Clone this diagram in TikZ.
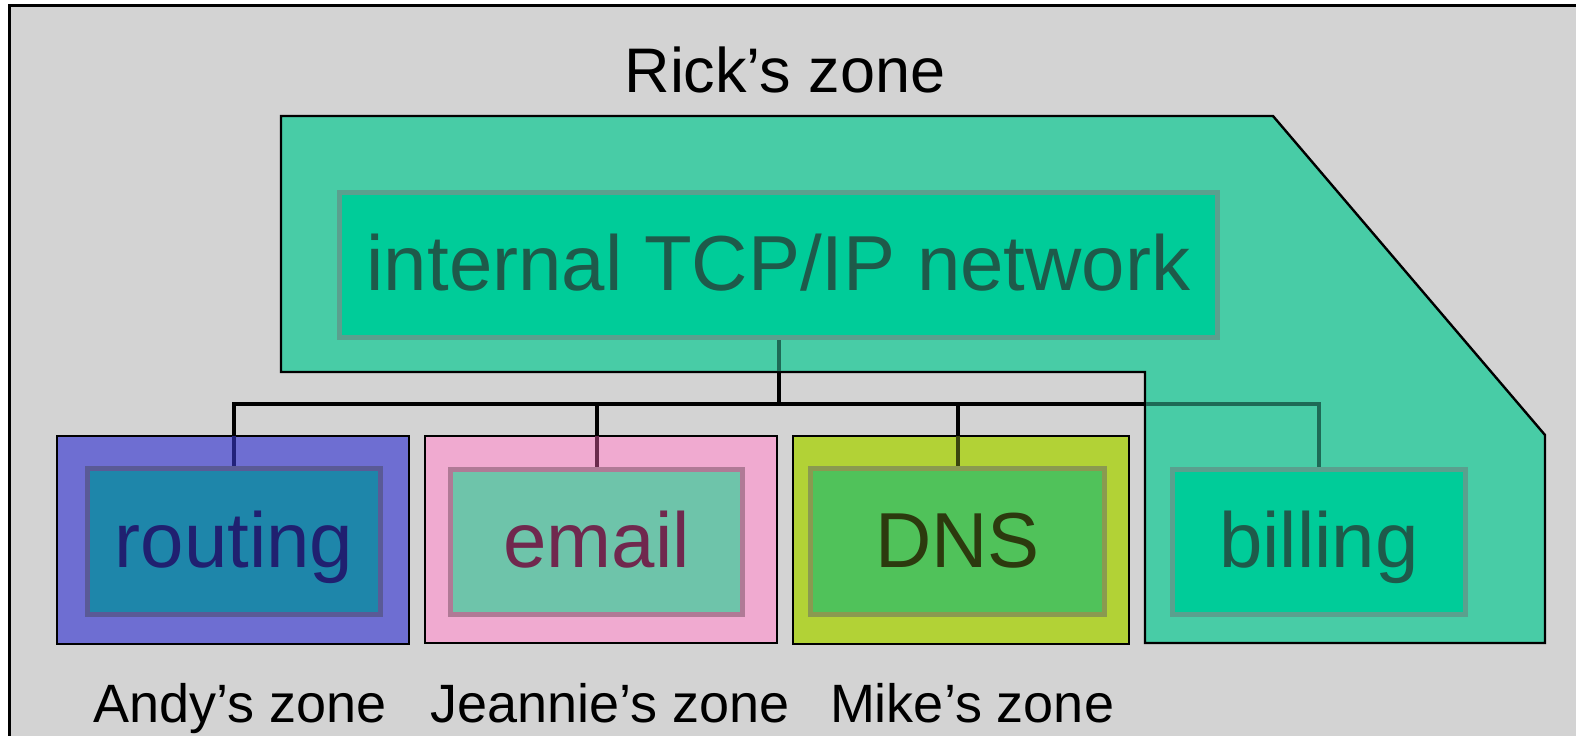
\documentclass[tikz,border=0pt]{standalone}
\usepackage{fontspec}
\setmainfont{Liberation Sans}
\definecolor{bggray}{HTML}{D3D3D3}
\definecolor{rickfill}{HTML}{48CCA6}
\definecolor{netfill}{HTML}{00CC99}
\definecolor{netedge}{HTML}{5AA08E}
\definecolor{nettext}{HTML}{1E5A4A}
\definecolor{rickwire}{HTML}{1E6A56}
\definecolor{andyfill}{HTML}{6E6ED2}
\definecolor{andyin}{HTML}{1E86AA}
\definecolor{andyedge}{HTML}{5A5A96}
\definecolor{andytext}{HTML}{202070}
\definecolor{andywire}{HTML}{22227A}
\definecolor{emailfill}{HTML}{F0AAD0}
\definecolor{emailin}{HTML}{6EC4AA}
\definecolor{emailedge}{HTML}{B07A96}
\definecolor{emailtext}{HTML}{70284E}
\definecolor{emailwire}{HTML}{6A2A4C}
\definecolor{dnsfill}{HTML}{B2D236}
\definecolor{dnsin}{HTML}{50C25A}
\definecolor{dnsedge}{HTML}{8A9A50}
\definecolor{dnstext}{HTML}{2C3A0E}
\definecolor{dnswire}{HTML}{3A460E}
\pgfdeclarelayer{back}
\pgfdeclarelayer{wires}
\pgfdeclarelayer{zones}
\pgfdeclarelayer{shade}
\pgfsetlayers{back,wires,zones,shade,main}
\begin{document}
\begin{tikzpicture}[x=0.5pt,y=-0.5pt,
  zonebox/.style={draw=black,line width=1.2pt,inner sep=0pt,outer sep=0pt},
  svcbox/.style={line width=2.5pt,inner sep=0pt,outer sep=0pt,text height=25.5pt,text depth=0pt,font=\fontsize{39}{39}\selectfont},
  wire/.style={line width=2pt},
  zonelabel/.style={inner sep=0pt,outer sep=0pt,font=\fontsize{27}{27}\selectfont}]
\useasboundingbox (0,0) rectangle (1576,736);
\begin{pgfonlayer}{back}
  \fill[white] (0,0) rectangle (1576,736);
  \fill[bggray] (9,5) rectangle (1576,736);
  \draw[line width=1.5pt] (1576,5) -- (9,5) -- (9,736);
\end{pgfonlayer}
% zones
\begin{pgfonlayer}{zones}
  \filldraw[fill=rickfill,draw=black,line width=1.2pt] (281,116) -- (1273,116) -- (1545,435) -- (1545,643) -- (1145,643) -- (1145,372) -- (281,372) -- cycle;
  \node[zonebox,fill=andyfill,minimum width=176pt,minimum height=104pt] (andy) at (233,540) {};
  \node[zonebox,fill=emailfill,minimum width=176pt,minimum height=103.5pt] (jeannie) at (601,539.5) {};
  \node[zonebox,fill=dnsfill,minimum width=168pt,minimum height=104pt] (mike) at (961,540) {};
\end{pgfonlayer}
% services
\node[svcbox,fill=netfill,draw=netedge,text=nettext,minimum width=439pt,minimum height=72.5pt] (net) at (778.5,265) {internal TCP/IP network};
\node[svcbox,fill=andyin,draw=andyedge,text=andytext,minimum width=146.5pt,minimum height=73pt] (routing) at (234,541.5) {routing};
\node[svcbox,fill=emailin,draw=emailedge,text=emailtext,minimum width=146pt,minimum height=72.5pt] (email) at (596.5,542) {email};
\node[svcbox,fill=dnsin,draw=dnsedge,text=dnstext,minimum width=147pt,minimum height=73pt] (dns) at (957.5,541.5) {DNS};
\node[svcbox,fill=netfill,draw=netedge,text=nettext,minimum width=146.5pt,minimum height=72.5pt] (billing) at (1319,542) {billing};
% wires
\coordinate (bus) at (0,404);
\begin{pgfonlayer}{wires}
  \draw[wire] (net.south) -- (net.south |- bus);
  \draw[wire] (routing.north) -- (routing.north |- bus) -- (billing.north |- bus) -- (billing.north);
  \draw[wire] (email.north) -- (email.north |- bus);
  \draw[wire] (dns.north) -- (dns.north |- bus);
\end{pgfonlayer}
\begin{pgfonlayer}{shade}
  \begin{scope}
    \clip (andy.south west) rectangle (andy.north east);
    \draw[wire,andywire] (routing.north) -- (routing.north |- bus);
  \end{scope}
  \begin{scope}
    \clip (jeannie.south west) rectangle (jeannie.north east);
    \draw[wire,emailwire] (email.north) -- (email.north |- bus);
  \end{scope}
  \begin{scope}
    \clip (mike.south west) rectangle (mike.north east);
    \draw[wire,dnswire] (dns.north) -- (dns.north |- bus);
  \end{scope}
  \begin{scope}
    \clip (282,117) -- (1273,117) -- (1544,435) -- (1544,642) -- (1146,642) -- (1146,371) -- (282,371) -- cycle;
    \draw[wire,rickwire] (net.south) -- (net.south |- bus);
    \draw[wire,rickwire] (routing.north |- bus) -- (billing.north |- bus) -- (billing.north);
  \end{scope}
\end{pgfonlayer}
% labels
\node[inner sep=0pt,anchor=base,font=\fontsize{31.5}{31.5}\selectfont] (rick) at (785,92) {Rick’s zone};
\node[zonelabel,anchor=base west] (andylbl) at (93,722) {Andy’s zone};
\node[zonelabel,anchor=base west] (jeannielbl) at (430,722) {Jeannie’s zone};
\node[zonelabel,anchor=base west] (mikelbl) at (830,722) {Mike’s zone};
\end{tikzpicture}
\end{document}
